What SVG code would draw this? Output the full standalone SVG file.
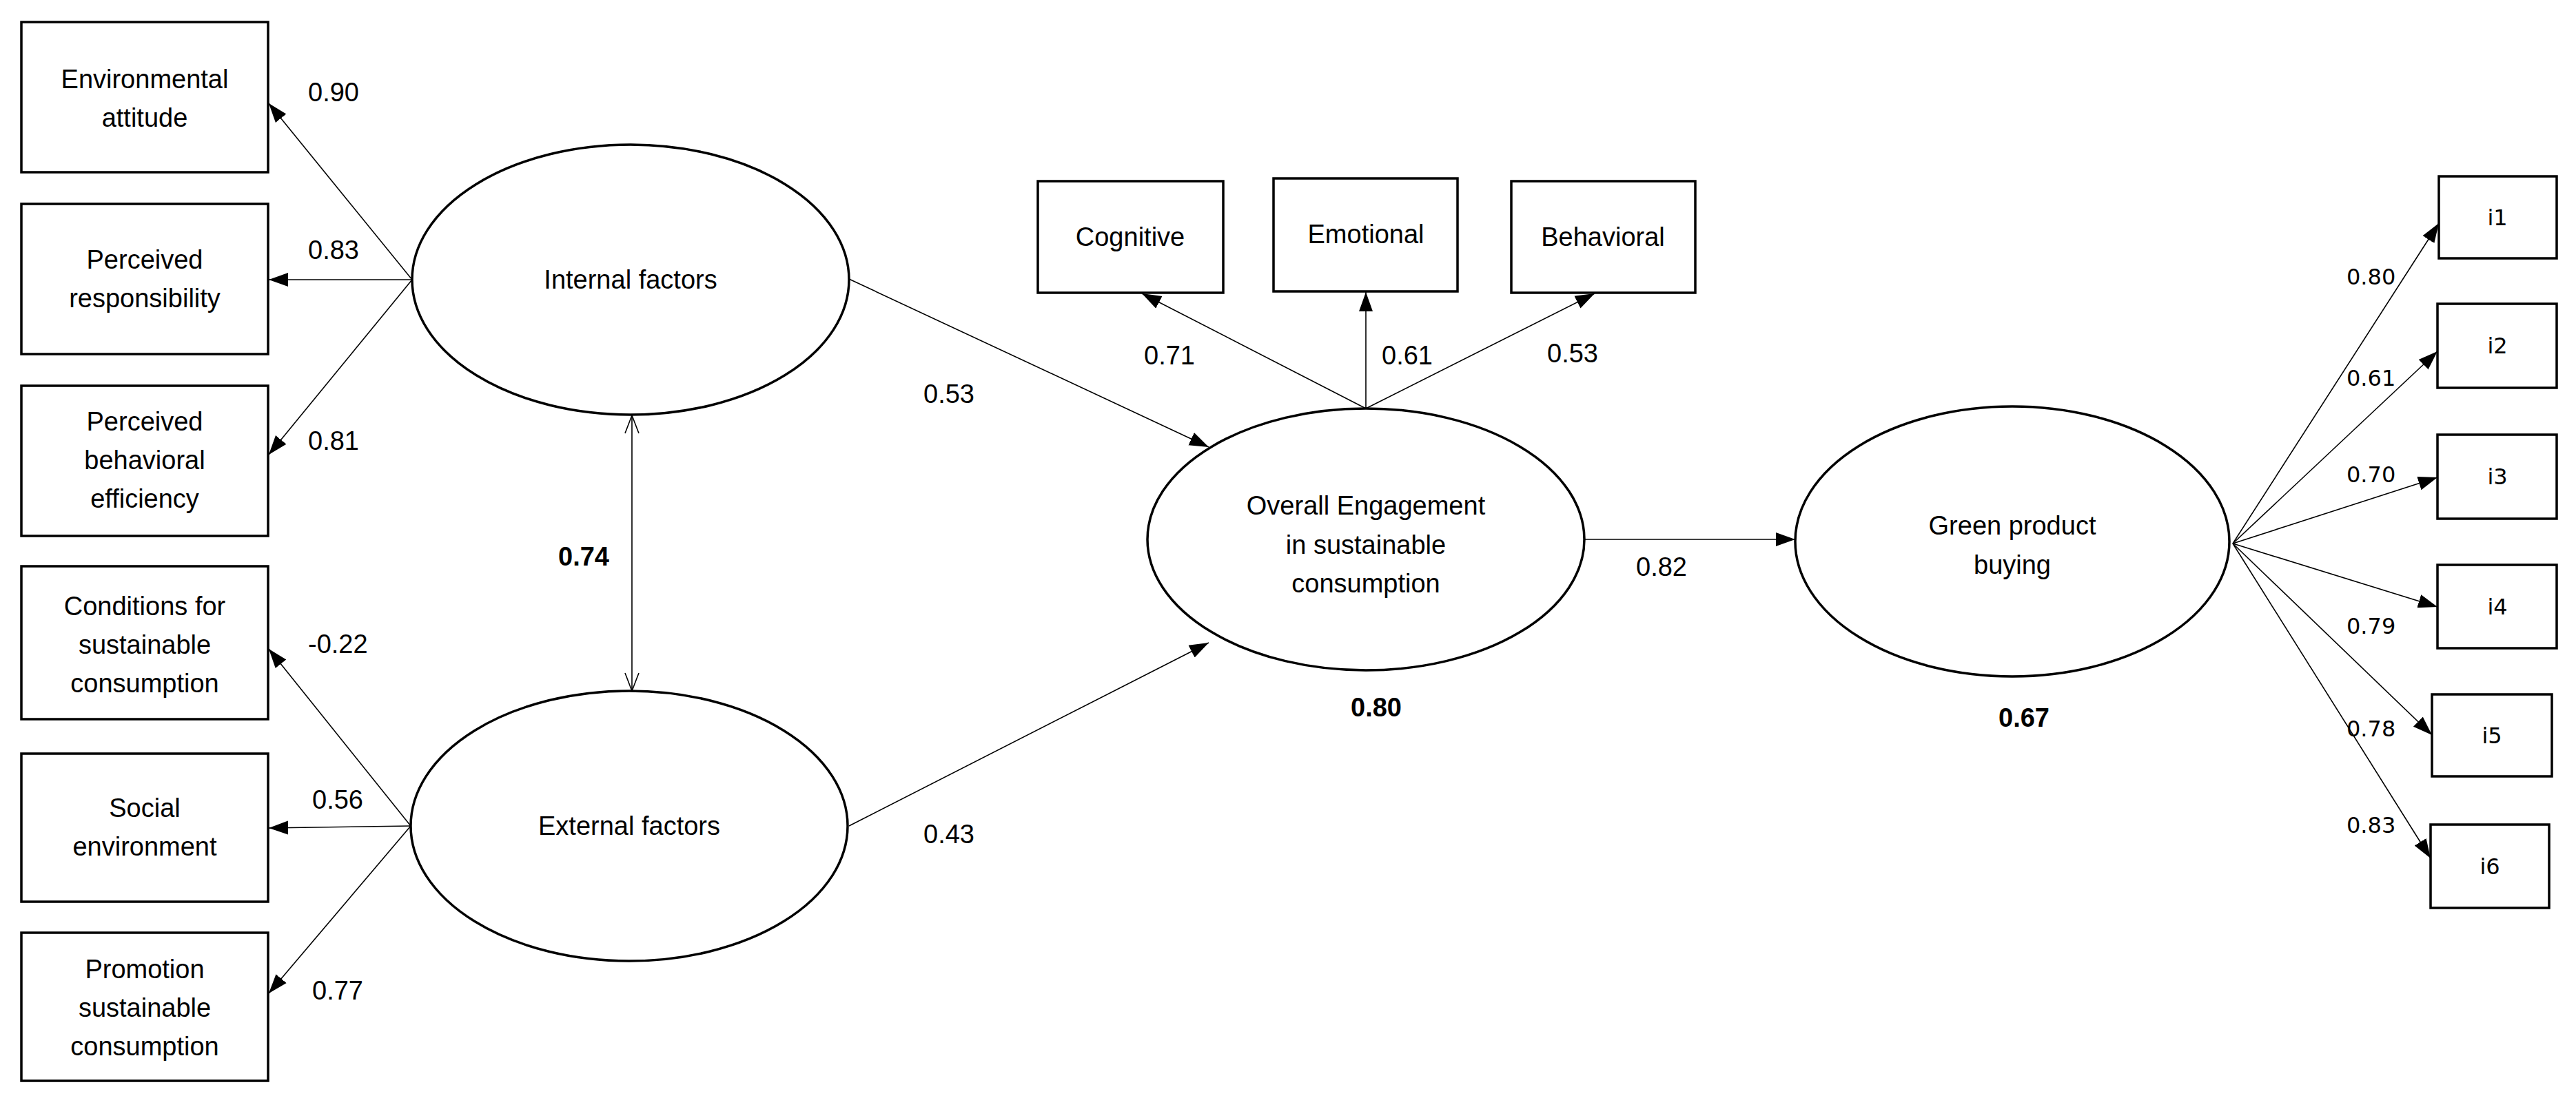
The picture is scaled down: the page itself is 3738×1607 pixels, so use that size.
<svg xmlns="http://www.w3.org/2000/svg" width="3738" height="1607" viewBox="0 0 3738 1607">
<defs>
<style>
.box{fill:#fff;stroke:#000;stroke-width:3.5}
.ell{fill:#fff;stroke:#000;stroke-width:3.5}
.t{font-family:"Liberation Sans",Arial,sans-serif;font-size:38px;text-anchor:middle;fill:#000}
.n{font-family:"Liberation Sans",Arial,sans-serif;font-size:38px;fill:#000}
.b{font-weight:bold}
.d{font-family:"DejaVu Sans",Verdana,sans-serif;font-size:32px;fill:#000}
.c{stroke:#000;stroke-width:1.6;fill:none;marker-end:url(#ah)}
</style>
<marker id="ah" markerUnits="userSpaceOnUse" markerWidth="30" markerHeight="24" refX="28" refY="12" orient="auto"><path d="M0,2 L28,12 L0,22 Z" fill="#000"/></marker>
<marker id="oa" markerUnits="userSpaceOnUse" markerWidth="30" markerHeight="24" refX="28" refY="12" orient="auto-start-reverse"><path d="M2,2 L28,12 L2,22" fill="none" stroke="#000" stroke-width="1.6"/></marker>
</defs>
<rect width="3738" height="1607" fill="#fff"/>
<g id="connectors">
<line class="c" x1="598" y1="406" x2="390" y2="150"/>
<line class="c" x1="598" y1="406" x2="390" y2="406"/>
<line class="c" x1="598" y1="406" x2="390" y2="660"/>
<line class="c" x1="596" y1="1199" x2="390" y2="942"/>
<line class="c" x1="596" y1="1199" x2="390" y2="1202"/>
<line class="c" x1="596" y1="1199" x2="390" y2="1442"/>
<line x1="917" y1="603" x2="917" y2="1003" stroke="#000" stroke-width="1.6" marker-start="url(#oa)" marker-end="url(#oa)"/>
<line class="c" x1="1232" y1="405" x2="1754" y2="649"/>
<line class="c" x1="1232" y1="1199" x2="1754" y2="933"/>
<line class="c" x1="1982" y1="593" x2="1657" y2="426"/>
<line class="c" x1="1982" y1="593" x2="1982" y2="424"/>
<line class="c" x1="1982" y1="593" x2="2314" y2="426"/>
<line class="c" x1="2300" y1="783" x2="2605" y2="783"/>
<line class="c" x1="3240" y1="789" x2="3539" y2="324"/>
<line class="c" x1="3240" y1="789" x2="3537" y2="510"/>
<line class="c" x1="3240" y1="789" x2="3537" y2="693"/>
<line class="c" x1="3240" y1="789" x2="3537" y2="881"/>
<line class="c" x1="3240" y1="789" x2="3529" y2="1067"/>
<line class="c" x1="3240" y1="789" x2="3527" y2="1246"/>
<text class="n" x="447" y="147">0.90</text>
<text class="n" x="447" y="376">0.83</text>
<text class="n" x="447" y="653">0.81</text>
<text class="n" x="447" y="948">-0.22</text>
<text class="n" x="453" y="1174">0.56</text>
<text class="n" x="453" y="1451">0.77</text>
<text class="n b" x="810" y="821">0.74</text>
<text class="n" x="1340" y="585">0.53</text>
<text class="n" x="1340" y="1224">0.43</text>
<text class="n" x="1660" y="529">0.71</text>
<text class="n" x="2005" y="529">0.61</text>
<text class="n" x="2245" y="526">0.53</text>
<text class="n" x="2374" y="836">0.82</text>
<text class="t b" x="1997" y="1040">0.80</text>
<text class="t b" x="2937" y="1055">0.67</text>
<text class="d" x="3405" y="413">0.80</text>
<text class="d" x="3405" y="560">0.61</text>
<text class="d" x="3405" y="700">0.70</text>
<text class="d" x="3405" y="920">0.79</text>
<text class="d" x="3405" y="1069">0.78</text>
<text class="d" x="3405" y="1209">0.83</text>
</g>
<g id="env"><rect class="box" x="31" y="32" width="358" height="218"/><text class="t" x="210" y="128">Environmental</text><text class="t" x="210" y="184">attitude</text></g>
<g id="resp"><rect class="box" x="31" y="296" width="358" height="218"/><text class="t" x="210" y="390">Perceived</text><text class="t" x="210" y="446">responsibility</text></g>
<g id="eff"><rect class="box" x="31" y="560" width="358" height="218"/><text class="t" x="210" y="625">Perceived</text><text class="t" x="210" y="681">behavioral</text><text class="t" x="210" y="737">efficiency</text></g>
<g id="cond"><rect class="box" x="31" y="822" width="358" height="222"/><text class="t" x="210" y="893">Conditions for</text><text class="t" x="210" y="949">sustainable</text><text class="t" x="210" y="1005">consumption</text></g>
<g id="social"><rect class="box" x="31" y="1094" width="358" height="215"/><text class="t" x="210" y="1186">Social</text><text class="t" x="210" y="1242">environment</text></g>
<g id="promo"><rect class="box" x="31" y="1354" width="358" height="215"/><text class="t" x="210" y="1420">Promotion</text><text class="t" x="210" y="1476">sustainable</text><text class="t" x="210" y="1532">consumption</text></g>
<g id="internal"><ellipse class="ell" cx="915" cy="406" rx="317" ry="196"/><text class="t" x="915" y="419">Internal factors</text></g>
<g id="external"><ellipse class="ell" cx="913" cy="1199" rx="317" ry="196"/><text class="t" x="913" y="1212">External factors</text></g>
<g id="overall"><ellipse class="ell" cx="1982" cy="783" rx="317" ry="190"/><text class="t" x="1982" y="747">Overall Engagement</text><text class="t" x="1982" y="804">in sustainable</text><text class="t" x="1982" y="860">consumption</text></g>
<g id="cognitive"><rect class="box" x="1506" y="263" width="269" height="162"/><text class="t" x="1640" y="357">Cognitive</text></g>
<g id="emotional"><rect class="box" x="1848" y="259" width="267" height="164"/><text class="t" x="1982" y="353">Emotional</text></g>
<g id="behavioral"><rect class="box" x="2193" y="263" width="267" height="162"/><text class="t" x="2326" y="357">Behavioral</text></g>
<g id="green"><ellipse class="ell" cx="2920" cy="786" rx="315" ry="196"/><text class="t" x="2920" y="776">Green product</text><text class="t" x="2920" y="833">buying</text></g>
<g id="i1"><rect class="box" x="3539" y="256" width="171" height="119"/><text class="d" x="3624" y="327" text-anchor="middle">i1</text></g>
<g id="i2"><rect class="box" x="3537" y="441" width="173" height="122"/><text class="d" x="3624" y="513" text-anchor="middle">i2</text></g>
<g id="i3"><rect class="box" x="3537" y="631" width="173" height="122"/><text class="d" x="3624" y="703" text-anchor="middle">i3</text></g>
<g id="i4"><rect class="box" x="3537" y="820" width="173" height="121"/><text class="d" x="3624" y="892" text-anchor="middle">i4</text></g>
<g id="i5"><rect class="box" x="3529" y="1008" width="174" height="119"/><text class="d" x="3616" y="1079" text-anchor="middle">i5</text></g>
<g id="i6"><rect class="box" x="3527" y="1197" width="172" height="121"/><text class="d" x="3613" y="1269" text-anchor="middle">i6</text></g>
</svg>
